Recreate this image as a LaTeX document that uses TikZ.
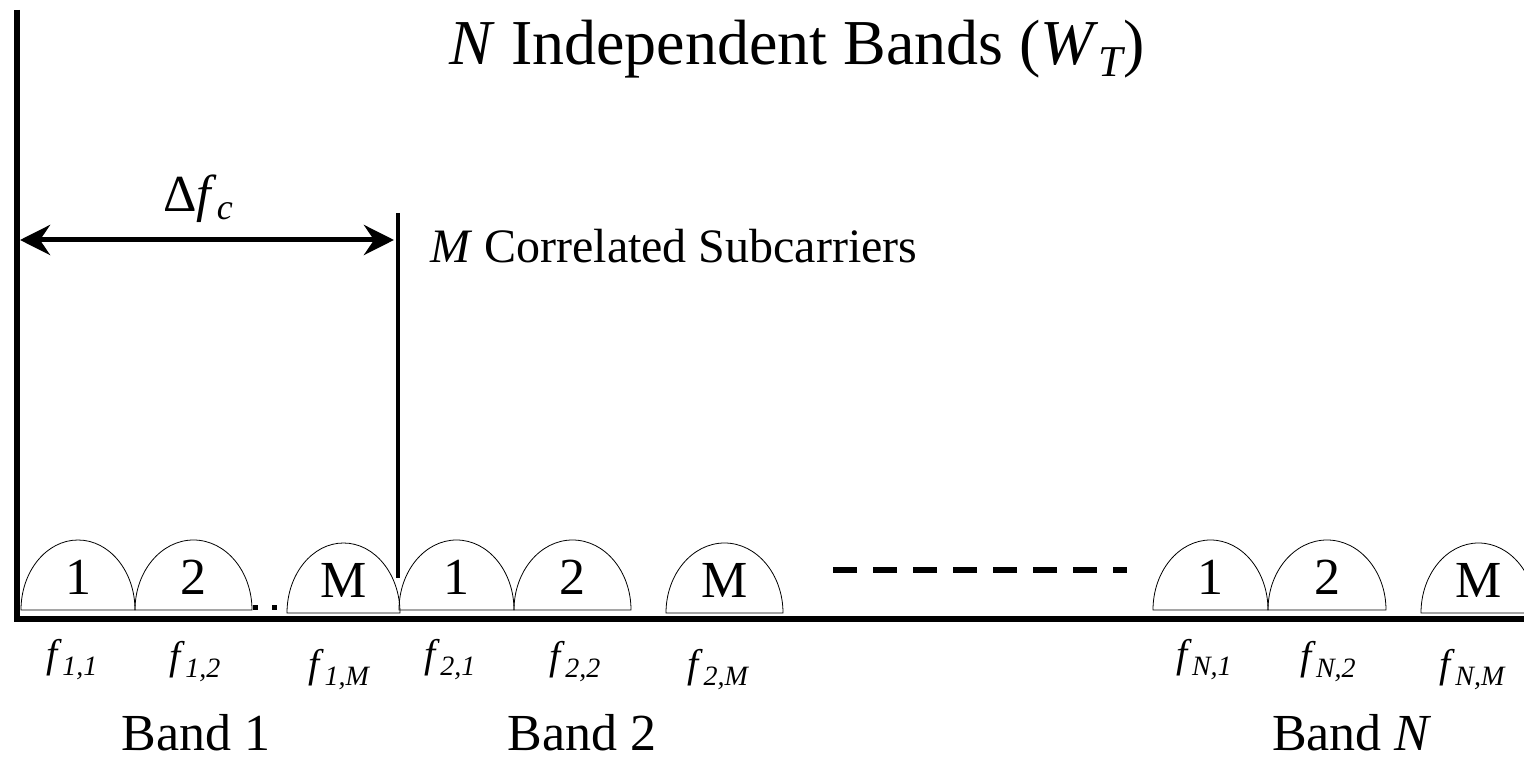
\documentclass[tikz,border=0pt]{standalone}
\usepackage{fontspec}
\setmainfont{Liberation Serif}
\usetikzlibrary{arrows.meta, positioning}

\newcommand{\fsub}[1]{\textit{f}\raisebox{-8pt}{\fontsize{28}{28}\selectfont\itshape #1}}

\begin{document}
\begin{tikzpicture}[x=1pt, y=1pt, every node/.style={inner sep=0pt, font=\fontsize{52}{60}\selectfont}]
  \tikzset{carrier/.style={line width=0.8pt},
    num/.style={anchor=base},
    freq/.style={anchor=base, font=\fontsize{40}{44}\selectfont},
    thickline/.style={line width=5pt}}
  \useasboundingbox (0,0) rectangle (1524,763);

  % axes
  \coordinate (ytop) at (17,753);
  \coordinate (origin) at (17,144);
  \coordinate (xend) at (1524,144);
  \draw[line width=6pt] (ytop) -- (origin) -- (xend);

  % subcarriers
  \foreach \xa/\xb/\yb/\lab in {21/135/153/1, 135/252/153/2, 287/400/150/M,
      399/514/153/1, 514/631/153/2, 666/783/150/M,
      1153/1268/153/1, 1268/1386/153/2, 1421/1536/150/M} {
    \pgfmathsetmacro{\rx}{(\xb-\xa)/2}
    \draw[carrier] (\xa,\yb) arc[start angle=180, end angle=0, x radius=\rx pt, y radius=70pt] -- cycle;
    \node[num] at ({(\xa+\xb)/2},{\yb+15}) {\lab};
  }
  \fill (253,153) rectangle (258,158);
  \fill (272,153) rectangle (277,158);

  % coherence bandwidth
  \coordinate (dl) at (20,523);
  \coordinate (dr) at (394,523);
  \coordinate (mtop) at (398,550);
  \coordinate (mbot) at (398,185);
  \draw[thickline, {Stealth[length=30pt, width=30pt, inset=10pt]}-{Stealth[length=30pt, width=30pt, inset=10pt]}] (dl) -- (dr);
  \draw[line width=4pt] (mtop) -- (mbot);
  \node[anchor=base] (dfc) at (198,551) {Δ\textit{f}\raisebox{-8pt}{\fontsize{36}{36}\selectfont\itshape c}};
  \node[anchor=base west, font=\fontsize{48}{54}\selectfont] (msub) at (430,500) {\textit{M} Correlated Subcarriers};

  \node[anchor=base, font=\fontsize{64}{70}\selectfont] (title) at (797,698) {\textit{N} Independent Bands (\textit{W}\raisebox{-12pt}{\fontsize{44}{44}\selectfont\itshape T})};

  % bands in between
  \coordinate (gapl) at (833,193);
  \coordinate (gapr) at (1127,193);
  \draw[line width=6pt, dash pattern=on 24pt off 16pt] (gapl) -- (gapr);

  % frequencies
  \node[freq] (f11) at (72,95) {\fsub{1,1}};
  \node[freq] (f12) at (195,93) {\fsub{1,2}};
  \node[freq] (f1M) at (339,85) {\fsub{1,M}};
  \node[freq] (f21) at (450,95) {\fsub{2,1}};
  \node[freq] (f22) at (575,93) {\fsub{2,2}};
  \node[freq] (f2M) at (718,85) {\fsub{2,M}};
  \node[freq] (fN1) at (1204,95) {\fsub{N,1}};
  \node[freq] (fN2) at (1328,93) {\fsub{N,2}};
  \node[freq] (fNM) at (1472,85) {\fsub{N,M}};

  \node[anchor=base] (band1) at (196,12) {Band 1};
  \node[anchor=base] (band2) at (582,12) {Band 2};
  \node[anchor=base] (bandN) at (1352,12) {Band \textit{N}};
\end{tikzpicture}
\end{document}
